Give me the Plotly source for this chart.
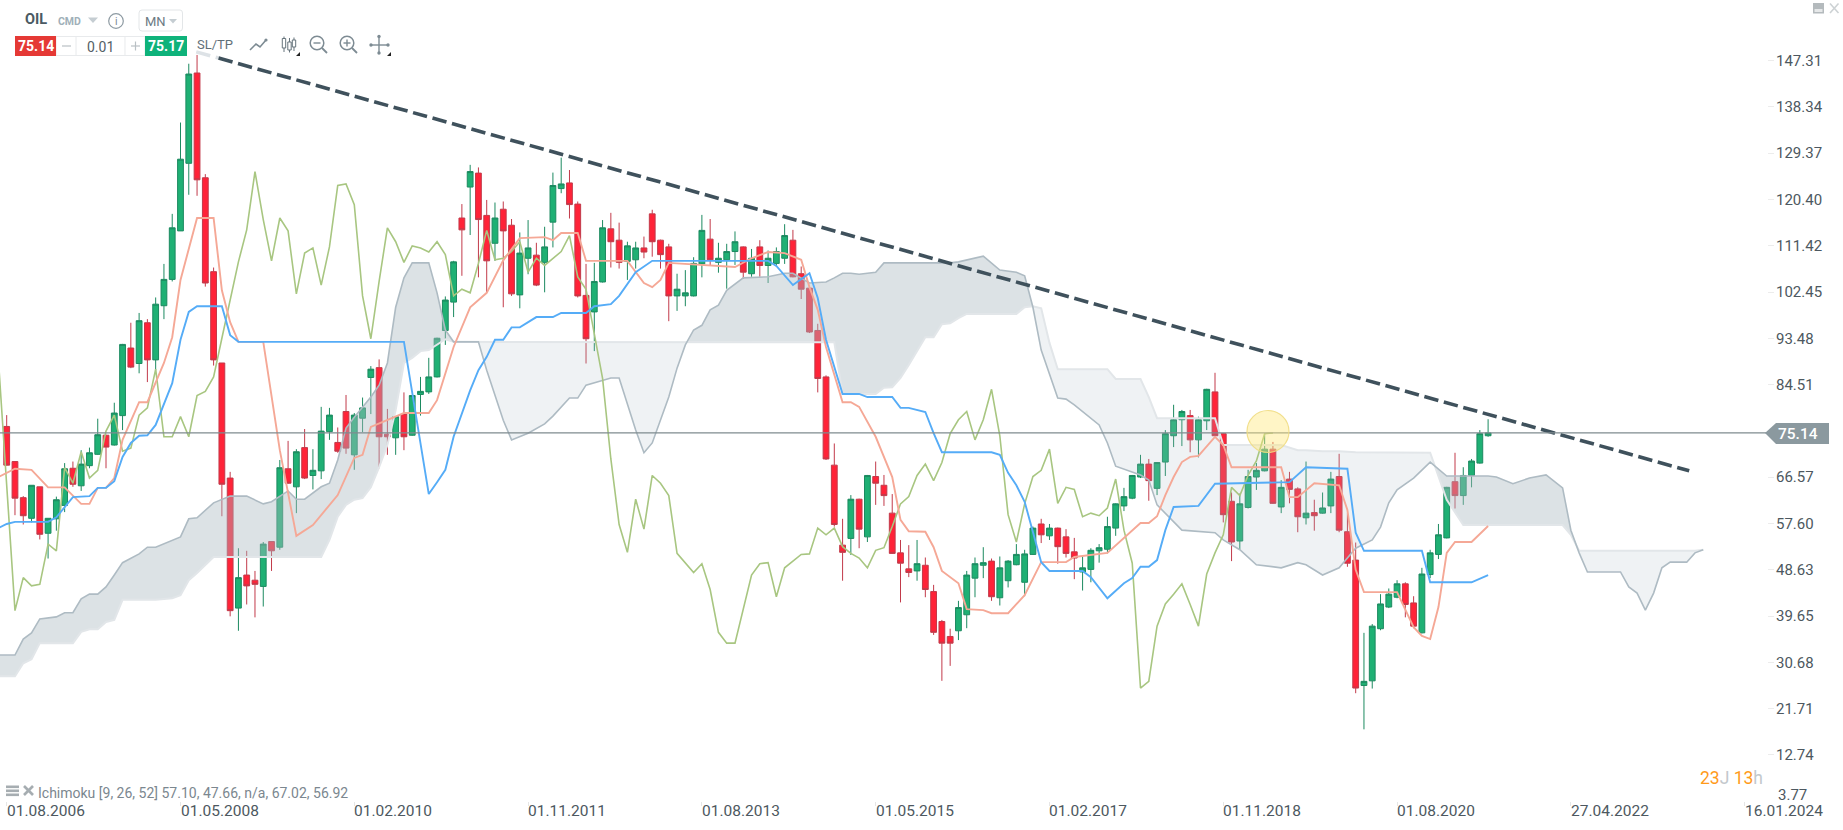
import plotly.graph_objects as go

W, H = 1843, 830
PLOT_R, PLOT_B = 1767, 801

# ---- monthly candles, first month 08.2006 -------------------------------
opens = [76.4,69.6,62.6,58.6,64.7,55.7,58.5,61.1,68.3,64.9,
 68.8,71.0,74.7,72.8,78.5,91.6,88.6,96.5,89.3,99.8,
 104.9,114.3,127.4,144.9,124.6,106.4,88.7,66.4,41.2,47.6,
 46.6,45.4,54.1,53.0,68.2,64.7,72.3,66.9,67.8,75.4,
 73.3,79.3,70.9,78.0,85.9,87.8,74.9,74.2,78.8,74.7,
 82.6,83.1,86.0,95.0,100.5,116.8,122.8,125.5,117.3,111.9,
 118.5,115.4,101.9,109.0,109.6,108.2,116.0,122.5,123.6,119.5,
 101.8,98.6,104.4,114.7,112.5,108.4,108.7,111.0,117.6,112.5,
 111.2,101.7,101.7,101.7,107.9,112.7,108.2,108.7,110.3,111.2,
 106.0,111.2,107.6,108.0,109.0,112.5,106.0,103.2,95.0,86.0,
 68.9,53.4,54.7,62.3,55.0,66.7,65.0,59.6,51.9,48.8,
 48.4,49.5,44.4,38.6,35.7,36.8,39.9,47.0,49.5,50.3,
 43.2,46.5,49.6,46.2,51.6,57.5,55.2,56.7,55.0,52.1,
 48.2,48.7,52.3,52.6,56.7,61.0,62.5,66.6,69.1,64.4,
 69.5,74.6,77.7,78.5,73.8,77.5,83.1,75.0,61.9,54.2,
 60.7,66.6,67.8,72.0,60.8,66.2,64.3,58.7,59.7,59.6,
 61.0,66.7,56.0,50.5,26.2,27.1,37.2,41.4,43.3,45.9,
 42.2,36.4,47.7,51.6,54.8,65.7,63.0,66.9,69.3,74.6]
highs = [78.6,69.6,62.9,65.0,64.7,58.6,62.8,69.3,69.6,71.8,
 72.3,77.9,74.8,81.0,92.4,96.5,98.4,97.2,101.4,107.9,
 117.6,135.3,146.7,148.4,125.3,107.2,88.7,67.6,52.8,52.3,
 48.4,54.0,54.2,69.9,73.6,72.0,75.9,72.0,80.2,80.0,
 76.2,82.5,79.0,82.0,88.1,89.4,79.8,78.4,83.0,82.5,
 86.0,89.7,93.6,101.6,108.5,119.5,127.1,126.6,120.3,119.8,
 120.0,116.6,114.0,116.4,112.0,115.1,125.6,128.5,126.1,120.0,
 107.9,108.1,116.4,117.8,115.9,112.2,112.2,113.2,118.4,112.6,
 111.8,106.0,106.7,109.2,117.4,116.6,112.0,111.8,114.2,111.3,
 110.8,112.5,110.5,111.1,115.6,114.5,107.4,103.3,96.3,86.3,
 73.1,58.5,63.1,62.4,67.0,69.6,67.0,63.3,54.4,53.4,
 54.4,51.0,45.7,38.9,37.2,42.6,48.4,51.0,53.0,50.8,
 51.2,50.5,53.6,52.5,57.0,58.5,57.5,56.8,56.5,54.8,
 51.4,52.8,53.6,58.9,61.5,64.5,67.0,70.9,70.1,69.5,
 75.7,80.6,79.6,79.6,78.3,83.7,86.8,75.1,63.6,63.4,
 68.0,69.3,75.1,73.4,66.0,67.6,64.6,69.6,62.2,63.6,
 67.6,71.1,59.6,53.9,36.4,38.1,43.9,45.0,46.6,46.2,
 43.5,49.0,52.5,57.5,64.7,71.3,68.5,70.1,75.7,77.8]
lows = [68.8,59.2,57.4,57.8,54.5,50.8,56.2,59.8,64.7,63.9,
 68.3,70.9,68.3,72.7,75.7,87.7,86.7,85.0,87.3,97.2,
 104.5,114.3,121.3,121.1,103.5,88.2,59.0,39.6,36.8,41.9,
 39.4,41.5,48.4,52.5,65.3,59.6,66.2,64.2,66.2,73.8,
 71.3,71.1,68.0,75.3,78.8,68.3,70.9,70.9,71.8,74.6,
 78.5,82.7,85.9,92.2,97.6,105.6,113.5,105.3,102.4,108.5,
 99.5,101.7,99.3,105.9,103.6,102.4,111.1,121.6,116.7,101.4,
 88.6,91.0,104.3,107.2,107.0,104.8,107.0,109.0,109.3,107.0,
 96.8,98.8,99.7,101.6,105.3,107.5,106.2,103.1,107.7,105.0,
 105.4,105.4,104.2,107.4,107.9,105.3,101.1,94.5,83.0,69.9,
 57.0,46.5,51.5,52.8,54.0,61.2,61.0,51.7,42.3,47.2,
 46.5,43.3,36.0,27.1,30.0,35.0,37.3,43.3,47.0,42.6,
 41.7,45.2,49.5,43.5,51.5,53.8,54.4,49.8,51.0,46.8,
 44.6,46.2,50.0,51.8,55.2,60.0,62.3,66.4,62.0,63.1,
 66.8,72.4,72.6,71.4,70.4,75.7,74.5,57.8,50.3,52.6,
 60.5,64.1,67.7,61.4,59.6,61.5,55.9,57.4,56.2,59.5,
 59.6,55.9,49.2,24.7,17.7,25.6,36.9,41.2,43.1,39.4,
 37.3,36.3,47.0,50.7,54.7,60.5,61.2,64.6,69.2,74.4]
closes = [68.9,62.5,59.1,65.0,55.5,58.6,62.2,68.2,65.2,69.1,
 71.3,74.8,72.4,79.0,92.3,87.9,96.9,89.3,100.1,104.9,
 114.9,128.2,144.7,124.2,104.2,89.3,65.2,40.7,47.1,45.5,
 45.8,53.6,52.3,68.4,65.4,71.5,66.4,67.9,75.5,78.6,
 71.6,72.2,78.6,80.0,87.5,74.4,74.4,78.3,74.4,82.4,
 83.2,86.0,93.5,100.9,108.3,114.5,125.8,116.5,108.5,116.8,
 114.3,102.1,110.0,111.0,103.8,111.2,123.1,123.4,119.4,101.7,
 93.4,104.5,114.9,112.2,108.2,111.4,111.0,110.2,112.2,109.7,
 101.7,103.0,102.3,108.0,114.4,108.7,109.0,110.3,112.2,106.3,
 109.0,107.6,109.0,110.3,113.4,105.4,103.0,94.7,85.7,70.1,
 57.4,52.0,62.3,56.5,66.9,65.4,63.0,51.8,49.9,48.1,
 49.8,44.8,36.5,34.4,34.4,41.3,47.6,49.8,50.0,43.4,
 49.0,50.3,51.6,51.7,56.7,55.4,56.7,53.1,51.8,50.9,
 49.0,52.4,52.9,57.0,61.4,62.8,66.9,69.1,65.9,69.4,
 75.0,77.7,79.3,73.8,77.7,83.6,74.6,59.3,54.0,61.4,
 66.7,67.9,72.0,61.5,64.6,64.2,58.9,59.6,59.1,60.6,
 66.2,56.3,49.9,25.7,27.0,37.7,42.0,43.9,45.9,41.9,
 37.7,47.8,51.9,55.4,64.6,63.0,66.9,69.7,75.0,75.14]
months = list(range(len(closes)))

# ---- Ichimoku: Tenkan ---------------------------------------------------
tenkan_m = [-1,1,3,5,7,9,10,11,12,13,14,16,17,19,20,21,23,25,26,27,28,31,33,35,37,40,42,43,44,46,48,51,52,54,56,58,60,62,65,66,67,69,70,75,77,78,79,80,88,90,92,94,96,97,98,99,101,102,103,105,107,108,109,111,112,113,115,116,118,119,121,123,125,128,129,133,135,137,138,139,140,141,142,143,144,146,147,148,154,155,156,158,161,162,163,164,168,170,171,172,173,174,175,177,179]
tenkan = [66.6,68.2,68.0,64.6,64.6,61.4,61.4,64.5,64.5,66.4,73.8,81.1,81.1,88.7,93.7,104.8,116.8,116.8,102.8,96.6,92.8,92.8,71.8,55.2,57.3,63.1,70.3,70.9,76.3,77.6,79.0,79.0,81.5,91.8,99.5,102.3,108.6,112.9,113.1,112.5,113.9,113.9,108.5,108.5,104.2,103.4,104.8,108.1,107.3,109.0,110.2,110.0,108.7,103.4,99.0,91.8,81.1,81.1,80.2,74.4,66.6,58.3,56.1,56.0,53.0,48.4,46.0,41.0,40.8,40.2,40.2,43.7,50.1,50.1,51.1,51.9,54.8,57.7,57.7,59.0,63.1,66.6,69.5,70.5,70.7,74.4,72.8,68.5,68.5,62.7,62.7,65.4,65.0,60.2,48.6,44.3,44.3,37.5,35.8,35.2,41.4,51.9,54.0,54.0,57.1]

# ---- Ichimoku: Kijun ----------------------------------------------------
kijun_m = [-1,0,1,5,6,8,10,11,12,13,14,15,16,17,18,20,21,22,23,26,27,28,48,51,52,53,54,55,56,57,58,59,60,61,62,64,66,67,70,71,73,74,76,78,92,93,95,97,98,99,101,103,104,107,108,109,111,112,113,119,120,121,122,123,125,126,130,131,133,135,136,137,138,139,140,141,144,146,155,157,162,163,164,171,172,177,179]
kijun = [56.7,57.5,57.9,57.9,58.8,62.7,62.9,64.5,64.5,65.8,70.5,73.2,74.6,74.7,76.7,84.8,93.2,98.6,99.7,99.7,94.1,92.8,92.8,63.3,65.6,68.0,74.4,78.8,83.4,87.3,89.9,93.2,93.2,95.6,95.6,97.6,97.6,98.4,98.4,99.7,100.1,101.7,106.3,108.5,108.5,107.5,103.8,106.1,101.3,93.2,82.7,82.7,82.1,82.1,80.0,80.0,79.2,75.1,71.4,71.4,70.9,67.4,65.0,61.8,50.1,48.4,48.4,47.2,43.1,46.0,47.0,49.2,49.2,50.5,56.3,60.8,61.0,65.3,65.6,68.5,68.2,55.8,52.3,52.3,46.2,46.2,47.6]

# ---- Ichimoku: cloud ----------------------------------------------------
cloud_m = [-1,1,2,3,4,6,7,8,9,10,11,12,13,14,16,17,18,20,21,22,23,25,27,29,31,32,34,35,36,38,39,40,41,42,43,44,45,46,47,48,49,50,51,52,53,54,57,58,59,60,61,63,65,66,68,69,70,72,73,74,75,76,77,78,80,81,82,83,84,85,86,87,89,92,94,95,97,99,100,101,102,103,105,106,107,108,109,111,112,113,114,115,116,118,120,122,123,124,125,126,127,128,129,132,133,134,136,137,138,139,142,144,146,147,149,151,154,156,157,159,161,163,165,166,167,168,170,172,174,176,179,180,182,184,186,188,189,190,191,195,196,197,198,199,200,201,203,204,205]
senkou_a = [32.1,32.1,35.2,36.4,39.1,39.5,40.3,40.3,43.0,43.9,43.9,45.3,47.6,50.0,51.7,53.0,53.0,54.4,55.0,58.5,58.7,61.6,62.9,62.9,61.4,61.8,63.9,62.3,62.3,64.7,65.4,69.9,76.1,78.2,80.2,82.1,84.4,88.7,99.5,105.2,108.1,108.1,108.1,102.3,95.1,92.8,92.8,87.3,82.5,77.6,73.8,75.1,76.9,78.4,81.9,81.9,84.4,85.4,85.8,85.8,80.7,75.7,71.3,73.2,82.1,87.7,92.2,95.1,96.0,99.0,99.9,102.8,105.2,105.4,106.1,106.1,104.2,104.4,105.2,106.1,106.1,105.9,106.3,108.1,108.1,108.1,108.1,108.1,108.1,108.1,108.1,108.3,108.7,109.4,106.7,106.3,105.6,99.5,91.2,86.4,81.9,81.7,80.6,76.7,73.2,68.7,67.6,67.0,66.0,61.2,56.3,56.0,55.8,54.4,52.5,49.6,49.0,50.0,49.6,47.6,49.0,52.8,54.4,56.9,61.6,64.1,66.4,69.5,66.8,66.8,66.8,66.6,65.3,66.4,67.0,64.5,56.3,51.9,48.2,48.2,45.3,44.1,40.8,44.1,49.0,50.1,50.1,51.9,52.5]
senkou_b = [28.0,28.0,30.5,31.3,34.4,34.4,34.4,34.4,36.6,37.1,37.1,38.5,38.9,42.8,42.8,42.8,42.8,43.1,43.7,46.6,48.0,51.1,51.1,51.1,51.1,51.1,51.1,51.1,51.1,51.1,54.4,58.9,61.2,62.2,62.5,64.6,68.5,72.8,79.6,88.7,89.7,91.0,91.2,92.2,93.3,92.8,92.8,92.8,92.8,92.8,92.8,92.8,92.8,92.8,92.8,92.8,92.8,92.8,92.8,92.8,92.8,92.8,92.8,92.8,92.8,92.8,92.8,92.8,92.8,92.8,92.8,92.8,92.8,92.8,92.8,92.8,92.8,92.8,92.7,82.7,82.7,82.7,82.7,83.9,84.0,85.8,88.3,93.7,93.7,96.2,96.4,97.4,98.2,98.2,98.2,98.2,99.5,99.7,99.3,92.6,87.5,87.5,87.5,87.5,87.5,85.6,85.6,85.6,82.1,78.0,78.0,78.0,78.0,72.8,72.8,72.8,72.8,71.8,71.8,71.6,71.6,71.4,71.4,71.4,71.4,71.4,71.4,71.3,62.2,57.3,57.3,57.3,57.3,57.3,57.3,57.3,55.4,52.3,52.3,52.3,52.3,52.3,52.3,52.3,52.3,52.3,52.3,52.3,52.5]

# ---- trend line, price line, axes ---------------------------------------
trend_fade_m = [22.9, 25.6]
trend_fade_p = [149.0, 147.8]
trend_m = [25.6, 203.3]
trend_p = [147.8, 67.8]
last_price = 75.14
y_tick_values = [147.31,138.34,129.37,120.40,111.42,102.45,93.48,84.51,66.57,57.60,48.63,39.65,30.68,21.71,12.74]
x_tick_months = [0,21,42,63,84,105,126,147,168,189,210]
x_tick_labels = ["01.08.2006","01.05.2008","01.02.2010","01.11.2011","01.08.2013","01.05.2015","01.02.2017","01.11.2018","01.08.2020","27.04.2022","16.01.2024"]

GREEN, GREEN_D = "#1fb074", "#1c8a60"
RED, RED_D = "#ff2338", "#c23a4a"
SALMON, BLUE, OLIVE = "#f5a896", "#55acf7", "#a8c681"
A_LINE, B_LINE = "#aebbc3", "#e2e6e9"
CLOUD_DARK, CLOUD_LIGHT = "rgba(172,186,194,0.42)", "rgba(172,186,194,0.19)"
TEXT = "#4d5860"
FONT = "Roboto"

def X(px): return px / W
def Y(py): return 1 - py / H

shapes, notes = [], []
def path(d, fill=None, color=None, width=1):
    s = dict(type="path", path=d, xref="paper", yref="paper", line=dict(width=width if color else 0, color=color or "rgba(0,0,0,0)"))
    if fill: s["fillcolor"] = fill
    shapes.append(s)
def poly(pts, fill=None, color=None, width=1, close=True):
    d = "M " + " L ".join(f"{X(a):.5f},{Y(b):.5f}" for a, b in pts) + (" Z" if close else "")
    path(d, fill, color, width)
def rect(x0, y0, x1, y1, fill=None, color=None, width=1):
    poly([(x0,y0),(x1,y0),(x1,y1),(x0,y1)], fill, color, width)
def seg(x0, y0, x1, y1, color, width=1):
    poly([(x0,y0),(x1,y1)], None, color, width, close=False)
def circle(cx, cy, r, fill=None, color=None, width=1):
    s = dict(type="circle", xref="paper", yref="paper", x0=X(cx-r), x1=X(cx+r), y0=Y(cy+r), y1=Y(cy-r), line=dict(width=width if color else 0, color=color or "rgba(0,0,0,0)"))
    if fill: s["fillcolor"] = fill
    shapes.append(s)
def text(px, py, s, size=13, color=TEXT, anchor="left", bold=False, weight=None):
    f = dict(family=FONT, size=size, color=color)
    if weight: f["weight"] = weight
    notes.append(dict(x=X(px), y=Y(py), xref="paper", yref="paper", text=f"<b>{s}</b>" if bold else s, showarrow=False, xanchor=anchor, yanchor="middle", borderpad=0, font=f))

def cloud_polygons(m, a, b):
    runs, cur, last = [], [(m[0], a[0], b[0])], 0
    for k in range(1, len(m)):
        d0, d1 = a[k-1]-b[k-1], a[k]-b[k]
        sign = (d1 > 0) - (d1 < 0)
        if sign and last and sign != last:
            t = d0 / (d0 - d1) if d0 else 0.0
            xc = m[k-1] + t * (m[k]-m[k-1])
            yc = a[k-1] + t * (a[k]-a[k-1])
            cur.append((xc, yc, yc))
            runs.append((last, cur))
            cur = [(xc, yc, yc)]
        if sign: last = sign
        cur.append((m[k], a[k], b[k]))
    runs.append((last, cur))
    return runs

fig = go.Figure()
fig.add_trace(go.Candlestick(x=months, open=opens, high=highs, low=lows, close=closes, whiskerwidth=0,
    increasing=dict(fillcolor=GREEN, line=dict(color=GREEN_D, width=1)),
    decreasing=dict(fillcolor=RED, line=dict(color=RED_D, width=1)), showlegend=False))
for sign, run in cloud_polygons(cloud_m, senkou_a, senkou_b):
    xs = [r[0] for r in run] + [r[0] for r in run][::-1]
    ys = [r[1] for r in run] + [r[2] for r in run][::-1]
    fig.add_trace(go.Scatter(x=xs, y=ys, mode="lines", line=dict(width=0), fill="toself", fillcolor=CLOUD_DARK if sign > 0 else CLOUD_LIGHT, showlegend=False, hoverinfo="skip"))
fig.add_trace(go.Scatter(x=cloud_m, y=senkou_b, mode="lines", line=dict(color=B_LINE, width=2), showlegend=False))
fig.add_trace(go.Scatter(x=cloud_m, y=senkou_a, mode="lines", line=dict(color=A_LINE, width=1.6), showlegend=False))
fig.add_trace(go.Scatter(x=[m - 26 for m in months[25:]], y=closes[25:], mode="lines", line=dict(color=OLIVE, width=1.6), showlegend=False))
fig.add_trace(go.Scatter(x=tenkan_m, y=tenkan, mode="lines", line=dict(color=SALMON, width=1.9), showlegend=False))
fig.add_trace(go.Scatter(x=kijun_m, y=kijun, mode="lines", line=dict(color=BLUE, width=1.9), showlegend=False))
fig.add_trace(go.Scatter(x=trend_fade_m, y=trend_fade_p, mode="lines", line=dict(color="#dde2e6", width=3.6, dash="14.5px,5.7px"), showlegend=False))
fig.add_trace(go.Scatter(x=trend_m, y=trend_p, mode="lines", line=dict(color="#3f515c", width=3.6, dash="14.5px,5.7px"), showlegend=False))

# price line + highlight
shapes.append(dict(type="line", xref="paper", yref="y", x0=0, x1=X(PLOT_R), y0=last_price, y1=last_price, line=dict(color="#7f8b8f", width=1.2)))
circle(1268, 431.5, 21, fill="rgba(255,232,120,0.42)", color="rgba(240,220,130,0.9)", width=1.2)

# price tag
poly([(1765,433),(1776,423),(1829,423),(1829,444),(1776,444)], fill="#8b999f")
text(1798, 433.5, str(last_price), size=15.5, color="#ffffff", anchor="center", weight=500)

# toolbar
text(24, 20, "OIL", 14.5, "#4b5a63", bold=True)
text(57, 21, "CMD", 10.5, "#9fb0b9", bold=True)
poly([(88,17.5),(98,17.5),(93,23)], fill="#c5cdd2")
circle(116, 21, 7.3, color="#8d9aa2", width=1.2)
text(116, 21.5, "i", 10.5, "#7c8a92", anchor="center")
path(f"M {X(142)},{Y(10)} L {X(180)},{Y(10)} Q {X(182.5)},{Y(10)} {X(182.5)},{Y(13)} L {X(182.5)},{Y(28)} Q {X(182.5)},{Y(31)} {X(180)},{Y(31)} L {X(142)},{Y(31)} Q {X(139)},{Y(31)} {X(139)},{Y(28)} L {X(139)},{Y(13)} Q {X(139)},{Y(10)} {X(142)},{Y(10)} Z", color="#e3e6e8")
text(144, 21.5, "MN", 13, "#6c7a83")
poly([(169,19),(177,19),(173,23.5)], fill="#c5cdd2")
rect(56, 36.5, 145, 55.5, color="#e8eaec")
seg(76, 37, 76, 55, "#e8eaec")
seg(125, 37, 125, 55, "#e8eaec")
rect(15, 36, 56, 56, fill="#e53935")
rect(145, 36, 187, 56, fill="#0eb27a")
text(35.5, 46, "75.14", 14, "#ffffff", anchor="center", bold=True)
text(166, 46, "75.17", 14, "#ffffff", anchor="center", bold=True)
text(100.5, 46.5, "0.01", 14, "#555f66", anchor="center")
seg(62, 46, 71, 46, "#b9c0c4", 1.2)
seg(131, 46, 140, 46, "#b9c0c4", 1.2)
seg(135.5, 41.5, 135.5, 50.5, "#b9c0c4", 1.2)
text(215, 44.5, "SL/TP", 13, "#5f6f78", anchor="center")
# line icon
poly([(250,50),(256,44),(260,47),(266,40)], None, "#7d8b93", 1.6, close=False)
circle(266, 40, 1.6, fill="#7d8b93")
# candle icon
for cx, t, b0, w0, w1 in [(284,38.5,48,36.5,52),(289.5,42,50,38,52.5),(294,40,47,37.5,51)]:
    seg(cx, w0, cx, w1, "#65737b", 1)
    rect(cx-1.7, t, cx+1.7, b0, fill="#ffffff", color="#65737b")
poly([(296,56),(300,56),(300,52)], fill="#222222")
# zooms
for cx, plus in [(317, False), (347, True)]:
    circle(cx, 43, 6.8, color="#7d8b93", width=1.5)
    seg(cx+5, 48, cx+10, 53, "#7d8b93", 1.8)
    seg(cx-3.5, 43, cx+3.5, 43, "#7d8b93", 1.4)
    if plus: seg(cx, 39.5, cx, 46.5, "#7d8b93", 1.4)
# move
seg(372, 45, 387, 45, "#7d8b93", 1.4)
seg(379, 37, 379, 52, "#7d8b93", 1.4)
for p in [(371,45),(388,45),(379,36.5),(379,53)]:
    circle(p[0], p[1], 1.7, fill="#7d8b93")
poly([(387,56),(391,56),(391,52)], fill="#222222")

# window buttons
rect(1813, 3, 1824, 13.5, fill="#b4babd")
rect(1814.5, 9, 1822.5, 12, fill="#e6e8e9")
seg(1830, 3.5, 1838.5, 13, "#cdd2d4", 1.6)
seg(1838.5, 3.5, 1830, 13, "#cdd2d4", 1.6)

# bottom legend
for yy in (785.5, 789.5, 793.5):
    rect(6, yy, 19, yy+2.6, fill="#a6adb1")
seg(24, 786, 33, 795, "#a6adb1", 2.6)
seg(33, 786, 24, 795, "#a6adb1", 2.6)
text(37, 792.7, "Ichimoku [9, 26, 52] 57.10, 47.66, n/a, 67.02, 56.92", 14, "#7b878f")

# countdown
text(1699, 778, '<span style="color:#ff9a1a">23</span><span style="color:#c3c8cc">J</span> <span style="color:#ff9a1a">13</span><span style="color:#c3c8cc">h</span>', 17.5)
text(1776.5, 795, "3.77", 15, TEXT)

for m, lab in zip(x_tick_months, x_tick_labels):
    notes.append(dict(x=m, y=Y(811), xref="x", yref="paper", text=lab, showarrow=False, xanchor="left", yanchor="middle", borderpad=0, xshift=-1,
                      font=dict(family=FONT, size=15.5, color=TEXT)))

x_per_px = 1 / 8.276
fig.update_layout(
    width=W, height=H, margin=dict(l=0, r=0, t=0, b=0, autoexpand=False),
    paper_bgcolor="white", plot_bgcolor="white", showlegend=False, hovermode=False,
    boxgap=0.3, boxgroupgap=0, shapes=shapes, annotations=notes,
    xaxis=dict(domain=[0, PLOT_R / W], range=[-6.7 * x_per_px, (PLOT_R - 6.7) * x_per_px], showgrid=False, zeroline=False,
               rangeslider=dict(visible=False), tickmode="array", tickvals=x_tick_months, ticktext=[""] * len(x_tick_months),
               ticks="outside", ticklen=4, tickcolor="#e6e6e6", showline=False),
    yaxis=dict(domain=[1 - PLOT_B / H, 1], range=[3.81, 159.05], side="right", showgrid=False, zeroline=False, showline=False,
               tickmode="array", tickvals=y_tick_values, ticktext=[f"{v:.2f}" for v in y_tick_values],
               ticks="outside", ticklen=6, tickcolor="#ececec", ticklabelstandoff=-1,
               tickfont=dict(family=FONT, size=15, color=TEXT)),
)
fig.write_html("out.html", config=dict(displayModeBar=False), post_script="document.body.style.margin='0';document.body.style.overflow='hidden';")
